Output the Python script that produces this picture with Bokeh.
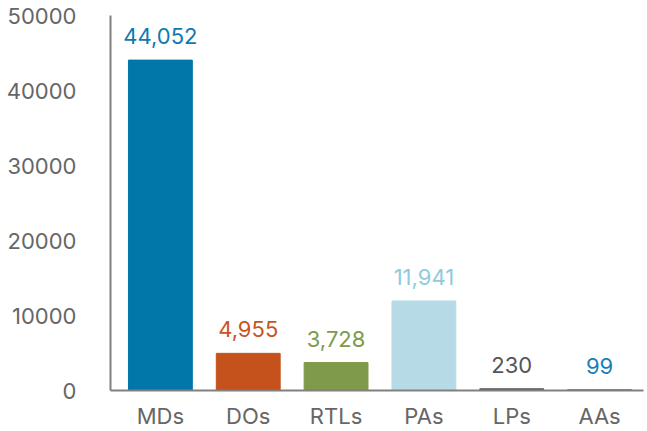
from bokeh.plotting import figure
from bokeh.models import ColumnDataSource, Range1d, FixedTicker, LabelSet, NumeralTickFormatter
from bokeh.core.properties import value
from bokeh.embed import file_html
from bokeh.resources import INLINE

categories = ["MDs", "DOs", "RTLs", "PAs", "LPs", "AAs"]
counts = [44052, 4955, 3728, 11941, 230, 99]
labels = ["44,052", "4,955", "3,728", "11,941", "230", "99"]
bar_colors = ["#0077A8", "#C5511C", "#7E9A4A", "#B6DBE6", "#5A5A5A", "#1F78A6"]
label_colors = ["#0E7AB0", "#C8541F", "#7E9A4A", "#8ECBDC", "#555555", "#1A7EB5"]
y_ticks = [0, 10000, 20000, 30000, 40000, 50000]

FONT = "Inter"
positions = list(range(len(categories)))

src = ColumnDataSource(dict(x=positions, top=counts, label=labels,
                            color=bar_colors, lcolor=label_colors))

p = figure(width=645, height=431, output_backend="svg", toolbar_location=None,
           x_range=Range1d(-0.568, 5.5), y_range=Range1d(0, 50000),
           min_border_left=110, min_border_top=15, min_border_bottom=41,
           min_border_right=2)
p.outline_line_color = None
p.xgrid.visible = False
p.ygrid.visible = False
p.background_fill_color = "white"

p.vbar(x="x", top="top", width=0.727, color="color", source=src)

p.add_layout(LabelSet(x="x", y="top", text="label", source=src, text_color="lcolor",
                      text_align="center", text_baseline="alphabetic", y_offset=16,
                      text_font=value(FONT), text_font_size=value("22px")))

p.xaxis.ticker = FixedTicker(ticks=positions)
p.xaxis.major_label_overrides = {i: c for i, c in enumerate(categories)}
p.xaxis.major_tick_line_color = None
p.xaxis.minor_tick_line_color = None
p.xaxis.axis_line_color = "#808080"
p.xaxis.axis_line_width = 2
p.xaxis.major_label_standoff = 6
p.xaxis.major_label_text_font = FONT
p.xaxis.major_label_text_font_size = "22px"
p.xaxis.major_label_text_color = "#666666"

p.yaxis.ticker = FixedTicker(ticks=y_ticks)
p.yaxis.formatter = NumeralTickFormatter(format="0")
p.yaxis.major_tick_line_color = None
p.yaxis.minor_tick_line_color = None
p.yaxis.axis_line_color = "#808080"
p.yaxis.axis_line_width = 2
p.yaxis.major_label_standoff = 28
p.yaxis.major_label_text_font = FONT
p.yaxis.major_label_text_font_size = "22px"
p.yaxis.major_label_text_color = "#666666"

open("out.html", "w").write(file_html(p, INLINE))
